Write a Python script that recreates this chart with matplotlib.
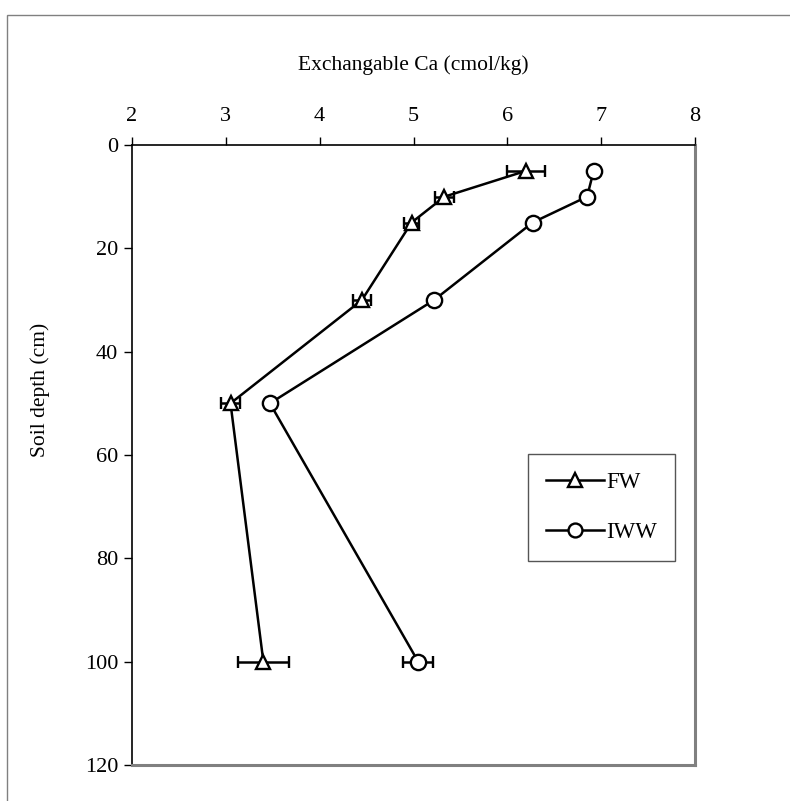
import matplotlib
matplotlib.use("Agg")
import matplotlib.pyplot as plt
from matplotlib.patches import Rectangle

plt.rcParams['font.family'] = ['Liberation Serif', 'DejaVu Serif']

depth = [5, 10, 15, 30, 50, 100]
fw = [6.20, 5.33, 4.98, 4.45, 3.05, 3.40]
fw_err = [0.20, 0.10, 0.08, 0.10, 0.10, 0.27]
iww = [6.92, 6.85, 6.27, 5.22, 3.47, 5.05]
iww_err = [0.0, 0.0, 0.0, 0.0, 0.0, 0.16]

xticks = [2, 3, 4, 5, 6, 7, 8]
yticks = [0, 20, 40, 60, 80, 100, 120]

fig = plt.figure(figsize=(7.9, 8.01), dpi=100)
fig.patches.append(Rectangle((7/790, -0.1), 1.2, 1 - 15/801 + 0.1, transform=fig.transFigure,
                             fill=False, edgecolor='#808080', linewidth=1.0))
ax = fig.add_axes([132/790, 1 - 765/801, (695 - 132)/790, (765 - 145)/801])

ax.errorbar(fw, depth, xerr=fw_err, color='black', linewidth=1.8, marker='^',
            markersize=10, markerfacecolor='white', markeredgecolor='black', markeredgewidth=1.7,
            capsize=4, elinewidth=1.8, capthick=1.8, label='FW', zorder=3)
ax.errorbar(iww, depth, xerr=iww_err, color='black', linewidth=1.8, marker='o',
            markersize=11, markerfacecolor='white', markeredgecolor='black', markeredgewidth=1.7,
            capsize=4, elinewidth=1.8, capthick=1.8, label='IWW', zorder=3)

ax.set_xlim(2, 8)
ax.set_ylim(120, 0)
ax.set_xticks(xticks)
ax.set_yticks(yticks)
ax.xaxis.tick_top()
ax.xaxis.set_label_position('top')
ax.tick_params(axis='both', labelsize=16, length=6, width=1, direction='out', pad=4, colors='black')
ax.tick_params(axis='x', pad=8)
ax.set_xlabel('Exchangable Ca (cmol/kg)', fontsize=15.5, labelpad=26)
ax.set_ylabel('Soil depth (cm)', fontsize=15.5)
ax.yaxis.set_label_coords(-0.145, (765 - 390) / 620)

ax.spines['top'].set_color('black')
ax.spines['left'].set_color('black')
ax.spines['right'].set_color('#808080')
ax.spines['bottom'].set_color('#808080')
ax.spines['right'].set_linewidth(2.2)
ax.spines['bottom'].set_linewidth(2.2)
for s in ['top', 'left']:
    ax.spines[s].set_linewidth(1.2)

handles, labels = ax.get_legend_handles_labels()
handles = [h[0] for h in handles]
leg = ax.legend(handles, labels, loc='upper left', bbox_to_anchor=((528 - 132)/563, 1 - (454 - 145)/620),
                fontsize=16.5, frameon=True, fancybox=False, edgecolor='#555555', framealpha=1,
                borderpad=0.8, labelspacing=1.25, handlelength=2.5, handletextpad=0.1,
                borderaxespad=0)
leg.get_frame().set_linewidth(1.0)
for h in leg.legend_handles:
    h.set_markersize(10)

fig.savefig('out.png', dpi=100)
